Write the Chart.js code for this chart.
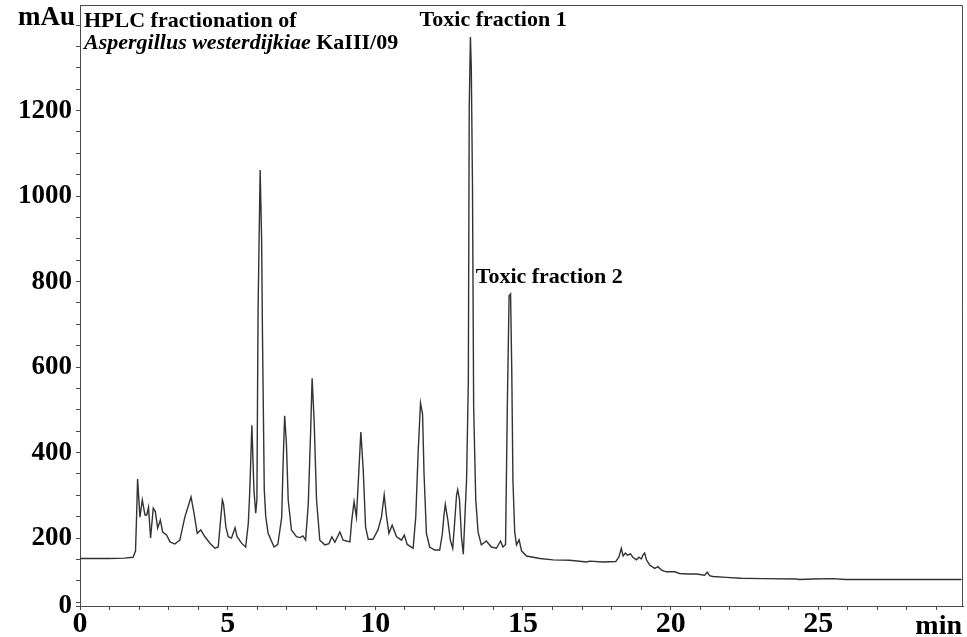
<!DOCTYPE html>
<html>
<head>
<meta charset="utf-8">
<script src="https://cdn.jsdelivr.net/npm/chart.js@4/dist/chart.umd.min.js"></script>
<style>
    html, body { margin: 0; padding: 0; background: #fff; }
    #wrap { width: 967px; height: 637px; position: relative; }
</style>
</head>
<body>
<div id="wrap"><canvas id="hplc"></canvas></div>
<script>
// Retention time (min) and detector response (mAu)
const timeMin = [0, 0.5, 1.0, 1.5, 1.8, 1.88, 1.92, 1.95, 2.03, 2.11,
    2.2, 2.26, 2.32, 2.39, 2.48, 2.55, 2.63, 2.72, 2.80, 2.93,
    3.05, 3.21, 3.38, 3.55, 3.76, 3.86, 3.97, 4.09, 4.23, 4.40,
    4.57, 4.68, 4.77, 4.82, 4.86, 4.94, 5.02, 5.13, 5.25, 5.32,
    5.47, 5.61, 5.70, 5.75, 5.82, 5.89, 5.95, 5.99, 6.03, 6.10,
    6.15, 6.18, 6.24, 6.29, 6.37, 6.57, 6.70, 6.83, 6.88, 6.93,
    6.99, 7.05, 7.16, 7.33, 7.45, 7.55, 7.64, 7.73, 7.81, 7.86,
    7.93, 8.01, 8.12, 8.29, 8.43, 8.53, 8.63, 8.80, 8.91, 9.14,
    9.20, 9.28, 9.36, 9.43, 9.51, 9.59, 9.67, 9.76, 9.92, 10.09,
    10.21, 10.30, 10.38, 10.46, 10.57, 10.72, 10.89, 10.98, 11.08, 11.28,
    11.37, 11.45, 11.53, 11.60, 11.65, 11.73, 11.84, 12.01, 12.18, 12.27,
    12.32, 12.37, 12.46, 12.54, 12.62, 12.69, 12.75, 12.79, 12.85, 12.92,
    12.98, 13.04, 13.09, 13.15, 13.18, 13.22, 13.25, 13.29, 13.33, 13.40,
    13.48, 13.59, 13.76, 13.93, 14.10, 14.24, 14.32, 14.41, 14.47, 14.53,
    14.58, 14.62, 14.66, 14.72, 14.78, 14.87, 14.95, 15.12, 15.57, 16.02,
    16.58, 17.15, 17.26, 17.71, 18.14, 18.25, 18.33, 18.39, 18.47, 18.54,
    18.64, 18.72, 18.84, 18.93, 19.01, 19.06, 19.12, 19.18, 19.29, 19.46,
    19.57, 19.69, 19.85, 20.14, 20.30, 20.57, 20.87, 21.15, 21.24, 21.32,
    21.43, 21.88, 22.39, 23.11, 24.25, 24.37, 24.80, 25.48, 25.92, 27.07,
    28.43, 29.85];

const absorbance = [152, 152, 152, 153, 155, 170, 260, 338, 249, 289,
    254, 254, 272, 200, 270, 262, 223, 242, 214, 207,
    191, 186, 195, 249, 296, 258, 211, 219, 203, 188,
    176, 179, 249, 289, 280, 226, 203, 200, 224, 203,
    188, 179, 235, 312, 464, 312, 258, 289, 733, 1061,
    900, 670, 312, 250, 211, 179, 185, 249, 380, 486,
    420, 289, 219, 203, 201, 205, 195, 280, 450, 574,
    470, 289, 195, 184, 187, 203, 190, 214, 195, 191,
    240, 285, 249, 340, 448, 360, 226, 197, 197, 219,
    250, 301, 250, 211, 230, 203, 195, 207, 185, 176,
    250, 400, 516, 490, 350, 211, 179, 172, 172, 210,
    250, 279, 240, 195, 176, 240, 300, 313, 290, 200,
    162, 260, 336, 568, 1208, 1372, 1300, 1026, 508, 291,
    214, 184, 193, 179, 176, 193, 179, 185, 508, 767,
    771, 594, 335, 214, 184, 196, 170, 158, 152, 149,
    148, 144, 146, 144, 145, 156, 176, 158, 165, 160,
    163, 155, 149, 155, 151, 160, 165, 149, 137, 129,
    133, 125, 121, 121, 117, 116, 116, 113, 120, 112,
    110, 108, 106, 105, 104, 103, 104, 105, 103, 103,
    103, 103];

// Axis ranges and tick labels
const xRange = [0, 29.9];
const xLabelEvery = 5;
const yRange = [41, 1447];
const yLabels = [200, 400, 600, 800, 1000, 1200];
const yZeroLabel = '0';

// Peak annotations: [text, time, mAu] (text baseline at this point)
const peakNotes = [
    ['Toxic fraction 1', 11.5, 1398],
    ['Toxic fraction 2', 13.4, 797]
];

const serif = '"Liberation Serif", "Times New Roman", serif';
const axisColor = '#4a4a4a';

// Frame, titles and peak notes
const decorPlugin = {
    id: 'decor',
    afterDraw(chart) {
        const ctx = chart.ctx;
        const area = chart.chartArea;
        const xs = chart.scales.x;
        const ys = chart.scales.y;
        ctx.save();
        ctx.strokeStyle = axisColor;
        ctx.lineWidth = 1;
        ctx.beginPath();
        ctx.moveTo(area.left, area.top + 0.5);
        ctx.lineTo(area.right - 0.5, area.top + 0.5);
        ctx.lineTo(area.right - 0.5, area.bottom);
        ctx.stroke();

        ctx.fillStyle = '#000';
        ctx.textBaseline = 'alphabetic';

        // unit labels
        ctx.font = 'bold 27px ' + serif;
        ctx.textAlign = 'right';
        ctx.fillText('mAu', area.left - 5, 25);
        ctx.font = 'bold 28px ' + serif;
        ctx.fillText('min', area.right - 1, 634);

        // title
        ctx.textAlign = 'left';
        ctx.font = 'bold 22px ' + serif;
        ctx.fillText('HPLC fractionation of', area.left + 4, 27);
        ctx.font = 'italic bold 22px ' + serif;
        const species = 'Aspergillus westerdijkiae';
        ctx.fillText(species, area.left + 4, 49);
        const w = ctx.measureText(species).width;
        ctx.font = 'bold 22px ' + serif;
        ctx.fillText(' KaIII/09', area.left + 4 + w, 49);

        // peak notes
        peakNotes.forEach(([text, t, v]) => {
            ctx.fillText(text, xs.getPixelForValue(t), ys.getPixelForValue(v));
        });
        ctx.restore();
    }
};

new Chart(document.getElementById('hplc'), {
    type: 'line',
    data: {
        datasets: [{
            data: timeMin.map((t, i) => ({ x: t, y: absorbance[i] })),
            borderColor: '#333',
            borderWidth: 1.4,
            pointRadius: 0,
            tension: 0,
            fill: false
        }]
    },
    options: {
        responsive: true,
        maintainAspectRatio: false,
        animation: false,
        layout: { padding: { top: 5, right: 4, left: 0, bottom: 0 } },
        plugins: {
            legend: { display: false },
            tooltip: { enabled: false }
        },
        scales: {
            x: {
                type: 'linear',
                min: xRange[0],
                max: xRange[1],
                afterFit: s => {
                    s.height = 31;
                    s.paddingLeft = 0;
                    s.paddingRight = 0;
                },
                border: { display: true, color: axisColor, width: 1 },
                grid: { display: true, drawOnChartArea: false, drawTicks: true, tickLength: 4, color: axisColor },
                ticks: {
                    stepSize: 1,
                    includeBounds: false,
                    autoSkip: false,
                    maxRotation: 0,
                    padding: -4,
                    color: '#000',
                    font: { family: serif, size: 30, weight: 'bold' },
                    callback: v => (v % xLabelEvery === 0 ? String(v) : '')
                }
            },
            y: {
                type: 'linear',
                min: yRange[0],
                max: yRange[1],
                afterFit: s => {
                    s.width = 80;
                    s.paddingTop = 0;
                    s.paddingBottom = 0;
                },
                afterBuildTicks: s => {
                    const ticks = [{ value: yRange[0] }];
                    for (let v = 50; v < yRange[1]; v += 50) ticks.push({ value: v });
                    s.ticks = ticks;
                },
                border: { display: true, color: axisColor, width: 1 },
                grid: { display: true, drawOnChartArea: false, drawTicks: true, tickLength: 4, color: axisColor },
                ticks: {
                    autoSkip: false,
                    padding: 4,
                    color: '#000',
                    font: { family: serif, size: 27, weight: 'bold' },
                    callback: v => {
                        if (v === yRange[0]) return yZeroLabel;
                        return yLabels.includes(v) ? String(v) : '';
                    }
                }
            }
        }
    },
    plugins: [decorPlugin]
});
</script>
</body>
</html>
